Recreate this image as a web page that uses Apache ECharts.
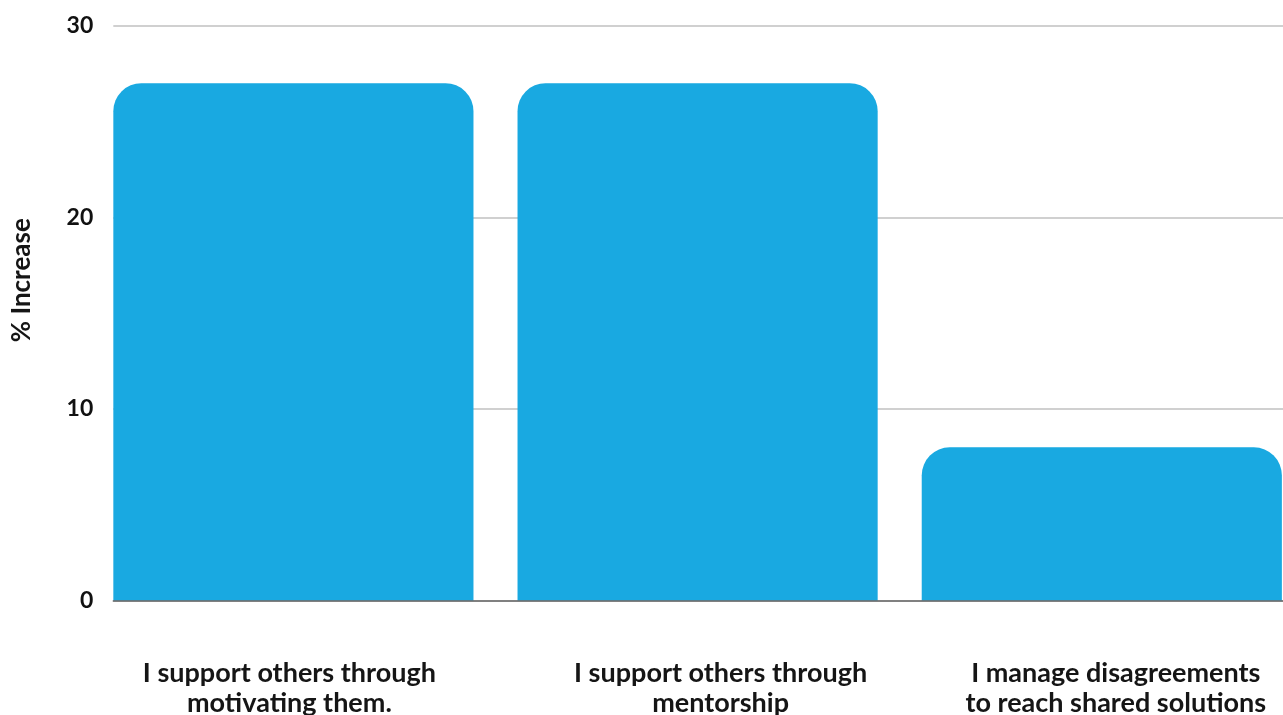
<!DOCTYPE html>
<html><head><meta charset="utf-8">
<script src="https://cdn.jsdelivr.net/npm/echarts@6/dist/echarts.min.js"></script>
<style>html,body{margin:0;padding:0;background:#fff}#c{width:1283px;height:715px}</style>
</head><body><div id="c"></div>
<script>
const categories = [
  "I support others through\nmotivating them.",
  "I support others through\nmentorship",
  "I manage disagreements\nto reach shared solutions"
];
const values = [27, 27, 8];
const yTicks = [0, 10, 20, 30];
const labelShift = [-4, 23, 14];

const chart = echarts.init(document.getElementById('c'), null, {renderer: 'canvas'});
const FONT = 'Lato';
const rich = {};
labelShift.forEach((d, i) => {
  rich['c' + i] = {
    fontFamily: FONT, fontWeight: 'bold', fontSize: 27, color: '#151515', lineHeight: 30,
    padding: d >= 0 ? [0, 0, 0, 2 * d] : [0, -2 * d, 0, 0]
  };
});
const gridTop = 25.7, gridBottom = 715 - 600.7;
chart.setOption({
  animation: false,
  grid: [
    {left: 113.3, right: 0, top: gridTop, bottom: gridBottom, outerBoundsMode: 'none', containLabel: false},
    {left: 91.3, width: 1212.6, top: gridTop, bottom: gridBottom, outerBoundsMode: 'none', containLabel: false}
  ],
  xAxis: [
    {type: 'category', gridIndex: 0, data: categories, axisTick: {show: false}, axisLabel: {show: false},
     axisLine: {show: true, lineStyle: {color: '#666', width: 1.5}}, z: 10},
    {type: 'category', gridIndex: 1, data: categories, axisTick: {show: false}, axisLine: {show: false},
     axisLabel: {
       margin: 58, interval: 0,
       formatter: (v, i) => v.split('\n').map(s => '{c' + i + '|' + s + '}').join('\n'),
       rich: rich
     }}
  ],
  yAxis: [
    {type: 'value', gridIndex: 0, min: yTicks[0], max: yTicks[yTicks.length - 1], interval: 10,
     axisLine: {show: false}, axisTick: {show: false},
     splitLine: {lineStyle: {color: '#c0c0c0', width: 1.5}},
     axisLabel: {margin: 20, fontFamily: FONT, fontWeight: 'bold', fontSize: 23, color: '#111'},
     name: '% Increase', nameLocation: 'middle', nameRotate: 90, nameGap: 79,
     nameTextStyle: {fontFamily: FONT, fontWeight: 'bold', fontSize: 26, color: '#151515', padding: [0, 0, 0, 66]}
    },
    {type: 'value', gridIndex: 1, min: yTicks[0], max: yTicks[yTicks.length - 1], interval: 10,
     show: false, splitLine: {show: false}}
  ],
  series: [{
    type: 'bar', xAxisIndex: 1, yAxisIndex: 1, data: values,
    barCategoryGap: '10.9%',
    itemStyle: {color: '#19A9E1', borderRadius: [28, 28, 0, 0]}
  }]
});
</script></body></html>
